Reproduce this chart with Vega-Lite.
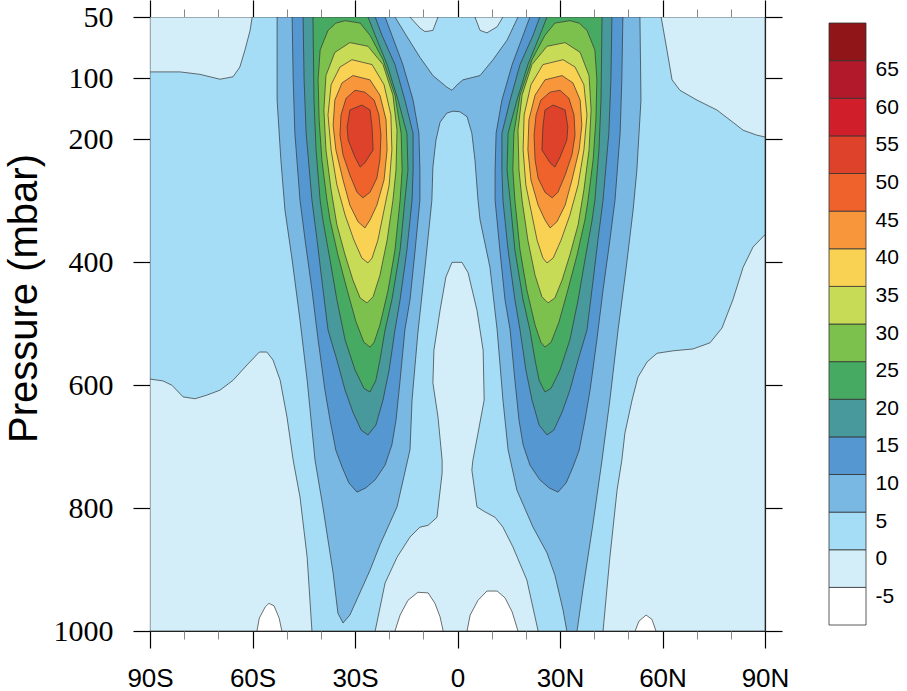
{
"$schema":"https://vega.github.io/schema/vega-lite/v6.json",
"autosize":{"type":"none"},
"padding":{"left":150,"top":17,"right":142,"bottom":60},
"width":615,"height":614,
"background":"white",
"config":{"view":{"stroke":null}},
"data":{"values":[
{"g":"a0","u":0,"i":0,"lat":-90,"p":50},{"g":"a0","u":0,"i":1,"lat":90,"p":50},{"g":"a0","u":0,"i":2,"lat":90,"p":1000},{"g":"a0","u":0,"i":3,"lat":-90,"p":1000},
{"g":"b1","u":-5,"i":0,"lat":-90,"p":50},{"g":"b1","u":-5,"i":1,"lat":-60.1,"p":50},{"g":"b1","u":-5,"i":2,"lat":-60.7,"p":61},{"g":"b1","u":-5,"i":3,"lat":-62.2,"p":77},{"g":"b1","u":-5,"i":4,"lat":-63.7,"p":91},{"g":"b1","u":-5,"i":5,"lat":-65.7,"p":99},{"g":"b1","u":-5,"i":6,"lat":-69.5,"p":102},{"g":"b1","u":-5,"i":7,"lat":-75.4,"p":97},{"g":"b1","u":-5,"i":8,"lat":-81.2,"p":95},{"g":"b1","u":-5,"i":9,"lat":-90,"p":95},
{"g":"b2","u":-5,"i":0,"lat":59.6,"p":50},{"g":"b2","u":-5,"i":1,"lat":90,"p":50},{"g":"b2","u":-5,"i":2,"lat":90,"p":196},{"g":"b2","u":-5,"i":3,"lat":87.6,"p":193},{"g":"b2","u":-5,"i":4,"lat":83.6,"p":185},{"g":"b2","u":-5,"i":5,"lat":80.6,"p":172},{"g":"b2","u":-5,"i":6,"lat":75.9,"p":152},{"g":"b2","u":-5,"i":7,"lat":70.1,"p":136},{"g":"b2","u":-5,"i":8,"lat":65.1,"p":120},{"g":"b2","u":-5,"i":9,"lat":62.8,"p":103},{"g":"b2","u":-5,"i":10,"lat":61.3,"p":77},
{"g":"b3","u":-5,"i":0,"lat":-13.9,"p":50},{"g":"b3","u":-5,"i":1,"lat":-5.7,"p":50},{"g":"b3","u":-5,"i":2,"lat":-7.2,"p":61},{"g":"b3","u":-5,"i":3,"lat":-9.5,"p":62},{"g":"b3","u":-5,"i":4,"lat":-11,"p":59},
{"g":"b4","u":-5,"i":0,"lat":5.1,"p":50},{"g":"b4","u":-5,"i":1,"lat":13.3,"p":50},{"g":"b4","u":-5,"i":2,"lat":11.6,"p":58},{"g":"b4","u":-5,"i":3,"lat":8.6,"p":63},{"g":"b4","u":-5,"i":4,"lat":6.6,"p":61},
{"g":"b5","u":-5,"i":0,"lat":-1.6,"p":400},{"g":"b5","u":-5,"i":1,"lat":1.3,"p":400},{"g":"b5","u":-5,"i":2,"lat":3.1,"p":417},{"g":"b5","u":-5,"i":3,"lat":5.7,"p":478},{"g":"b5","u":-5,"i":4,"lat":7.5,"p":543},{"g":"b5","u":-5,"i":5,"lat":7.8,"p":624},{"g":"b5","u":-5,"i":6,"lat":6.0,"p":678},{"g":"b5","u":-5,"i":7,"lat":4.5,"p":722},{"g":"b5","u":-5,"i":8,"lat":4.2,"p":738},{"g":"b5","u":-5,"i":9,"lat":5.7,"p":798},{"g":"b5","u":-5,"i":10,"lat":8.0,"p":806},{"g":"b5","u":-5,"i":11,"lat":11.0,"p":815},{"g":"b5","u":-5,"i":12,"lat":13.3,"p":831},{"g":"b5","u":-5,"i":13,"lat":16.2,"p":863},{"g":"b5","u":-5,"i":14,"lat":20.3,"p":917},{"g":"b5","u":-5,"i":15,"lat":23.6,"p":1000},{"g":"b5","u":-5,"i":16,"lat":-24.1,"p":1000},{"g":"b5","u":-5,"i":17,"lat":-21.2,"p":922},{"g":"b5","u":-5,"i":18,"lat":-17.7,"p":880},{"g":"b5","u":-5,"i":19,"lat":-13.9,"p":847},{"g":"b5","u":-5,"i":20,"lat":-11,"p":831},{"g":"b5","u":-5,"i":21,"lat":-8.6,"p":828},{"g":"b5","u":-5,"i":22,"lat":-6.0,"p":815},{"g":"b5","u":-5,"i":23,"lat":-4.5,"p":743},{"g":"b5","u":-5,"i":24,"lat":-4.5,"p":722},{"g":"b5","u":-5,"i":25,"lat":-5.7,"p":652},{"g":"b5","u":-5,"i":26,"lat":-7.2,"p":596},{"g":"b5","u":-5,"i":27,"lat":-6.9,"p":543},{"g":"b5","u":-5,"i":28,"lat":-5.1,"p":478},{"g":"b5","u":-5,"i":29,"lat":-3.4,"p":424},
{"g":"b6","u":-5,"i":0,"lat":-90,"p":590},{"g":"b6","u":-5,"i":1,"lat":-86.2,"p":593},{"g":"b6","u":-5,"i":2,"lat":-83.6,"p":600},{"g":"b6","u":-5,"i":3,"lat":-80.3,"p":619},{"g":"b6","u":-5,"i":4,"lat":-76.8,"p":622},{"g":"b6","u":-5,"i":5,"lat":-73.3,"p":616},{"g":"b6","u":-5,"i":6,"lat":-69.5,"p":608},{"g":"b6","u":-5,"i":7,"lat":-65.7,"p":592},{"g":"b6","u":-5,"i":8,"lat":-61.6,"p":567},{"g":"b6","u":-5,"i":9,"lat":-58.0,"p":546},{"g":"b6","u":-5,"i":10,"lat":-55.8,"p":546},{"g":"b6","u":-5,"i":11,"lat":-54.0,"p":559},{"g":"b6","u":-5,"i":12,"lat":-51.9,"p":592},{"g":"b6","u":-5,"i":13,"lat":-49.9,"p":652},{"g":"b6","u":-5,"i":14,"lat":-48.1,"p":722},{"g":"b6","u":-5,"i":15,"lat":-46.1,"p":782},{"g":"b6","u":-5,"i":16,"lat":-44.0,"p":880},{"g":"b6","u":-5,"i":17,"lat":-42.6,"p":1000},{"g":"b6","u":-5,"i":18,"lat":-90,"p":1000},
{"g":"b7","u":-5,"i":0,"lat":90,"p":355},{"g":"b7","u":-5,"i":1,"lat":86.5,"p":375},{"g":"b7","u":-5,"i":2,"lat":83.6,"p":408},{"g":"b7","u":-5,"i":3,"lat":80.6,"p":461},{"g":"b7","u":-5,"i":4,"lat":77.4,"p":507},{"g":"b7","u":-5,"i":5,"lat":73.9,"p":531},{"g":"b7","u":-5,"i":6,"lat":68.9,"p":541},{"g":"b7","u":-5,"i":7,"lat":63.1,"p":544},{"g":"b7","u":-5,"i":8,"lat":58.4,"p":548},{"g":"b7","u":-5,"i":9,"lat":55.5,"p":562},{"g":"b7","u":-5,"i":10,"lat":52.8,"p":587},{"g":"b7","u":-5,"i":11,"lat":51.1,"p":624},{"g":"b7","u":-5,"i":12,"lat":49.0,"p":678},{"g":"b7","u":-5,"i":13,"lat":48.1,"p":722},{"g":"b7","u":-5,"i":14,"lat":46.7,"p":771},{"g":"b7","u":-5,"i":15,"lat":44.6,"p":880},{"g":"b7","u":-5,"i":16,"lat":42.6,"p":1000},{"g":"b7","u":-5,"i":17,"lat":90,"p":1000},
{"g":"c1","u":-10,"i":0,"lat":-58.7,"p":1000},{"g":"c1","u":-10,"i":1,"lat":-58,"p":979},{"g":"c1","u":-10,"i":2,"lat":-56.3,"p":961},{"g":"c1","u":-10,"i":3,"lat":-55.2,"p":955},{"g":"c1","u":-10,"i":4,"lat":-53.7,"p":959},{"g":"c1","u":-10,"i":5,"lat":-52.2,"p":979},{"g":"c1","u":-10,"i":6,"lat":-51.4,"p":1000},
{"g":"c2","u":-10,"i":0,"lat":-18.3,"p":1000},{"g":"c2","u":-10,"i":1,"lat":-16.8,"p":974},{"g":"c2","u":-10,"i":2,"lat":-14.5,"p":950},{"g":"c2","u":-10,"i":3,"lat":-11.6,"p":937},{"g":"c2","u":-10,"i":4,"lat":-8.6,"p":938},{"g":"c2","u":-10,"i":5,"lat":-6.6,"p":955},{"g":"c2","u":-10,"i":6,"lat":-5.1,"p":977},{"g":"c2","u":-10,"i":7,"lat":-4.2,"p":1000},
{"g":"c3","u":-10,"i":0,"lat":2.8,"p":1000},{"g":"c3","u":-10,"i":1,"lat":3.7,"p":974},{"g":"c3","u":-10,"i":2,"lat":6.0,"p":950},{"g":"c3","u":-10,"i":3,"lat":8.6,"p":935},{"g":"c3","u":-10,"i":4,"lat":11.6,"p":935},{"g":"c3","u":-10,"i":5,"lat":13.9,"p":946},{"g":"c3","u":-10,"i":6,"lat":16.0,"p":969},{"g":"c3","u":-10,"i":7,"lat":17.7,"p":1000},
{"g":"c4","u":-10,"i":0,"lat":52,"p":1000},{"g":"c4","u":-10,"i":1,"lat":53.1,"p":984},{"g":"c4","u":-10,"i":2,"lat":55.2,"p":974},{"g":"c4","u":-10,"i":3,"lat":56.9,"p":981},{"g":"c4","u":-10,"i":4,"lat":58.1,"p":1000},
{"g":"d05","u":5,"i":0,"lat":-52.8,"p":50},{"g":"d05","u":5,"i":1,"lat":-18.3,"p":50},{"g":"d05","u":5,"i":2,"lat":-14.8,"p":66},{"g":"d05","u":5,"i":3,"lat":-11,"p":83},{"g":"d05","u":5,"i":4,"lat":-7.2,"p":98},{"g":"d05","u":5,"i":5,"lat":-3.1,"p":115},{"g":"d05","u":5,"i":6,"lat":-1.6,"p":120},{"g":"d05","u":5,"i":7,"lat":-0.1,"p":111},{"g":"d05","u":5,"i":8,"lat":1.6,"p":103},{"g":"d05","u":5,"i":9,"lat":6.6,"p":98},{"g":"d05","u":5,"i":10,"lat":10.4,"p":85},{"g":"d05","u":5,"i":11,"lat":14.5,"p":69},{"g":"d05","u":5,"i":12,"lat":17.7,"p":50},{"g":"d05","u":5,"i":13,"lat":53.4,"p":50},{"g":"d05","u":5,"i":14,"lat":53.7,"p":136},{"g":"d05","u":5,"i":15,"lat":52.5,"p":250},{"g":"d05","u":5,"i":16,"lat":51.4,"p":315},{"g":"d05","u":5,"i":17,"lat":49.3,"p":412},{"g":"d05","u":5,"i":18,"lat":47,"p":510},{"g":"d05","u":5,"i":19,"lat":44.6,"p":624},{"g":"d05","u":5,"i":20,"lat":42.3,"p":722},{"g":"d05","u":5,"i":21,"lat":39.7,"p":824},{"g":"d05","u":5,"i":22,"lat":36.7,"p":933},{"g":"d05","u":5,"i":23,"lat":35,"p":1000},{"g":"d05","u":5,"i":24,"lat":32,"p":1000},{"g":"d05","u":5,"i":25,"lat":30.9,"p":966},{"g":"d05","u":5,"i":26,"lat":28.5,"p":909},{"g":"d05","u":5,"i":27,"lat":26.2,"p":873},{"g":"d05","u":5,"i":28,"lat":22.1,"p":831},{"g":"d05","u":5,"i":29,"lat":17.4,"p":771},{"g":"d05","u":5,"i":30,"lat":14.8,"p":705},{"g":"d05","u":5,"i":31,"lat":13.3,"p":624},{"g":"d05","u":5,"i":32,"lat":11.6,"p":510},{"g":"d05","u":5,"i":33,"lat":9.5,"p":408},{"g":"d05","u":5,"i":34,"lat":6.6,"p":331},{"g":"d05","u":5,"i":35,"lat":6,"p":299},{"g":"d05","u":5,"i":36,"lat":5.1,"p":233},{"g":"d05","u":5,"i":37,"lat":4.2,"p":190},{"g":"d05","u":5,"i":38,"lat":2.8,"p":163},{"g":"d05","u":5,"i":39,"lat":0.7,"p":155},{"g":"d05","u":5,"i":40,"lat":-1.3,"p":154},{"g":"d05","u":5,"i":41,"lat":-3.1,"p":157},{"g":"d05","u":5,"i":42,"lat":-5.1,"p":172},{"g":"d05","u":5,"i":43,"lat":-6.3,"p":201},{"g":"d05","u":5,"i":44,"lat":-7.2,"p":245},{"g":"d05","u":5,"i":45,"lat":-7.5,"p":299},{"g":"d05","u":5,"i":46,"lat":-9.5,"p":408},{"g":"d05","u":5,"i":47,"lat":-11.6,"p":515},{"g":"d05","u":5,"i":48,"lat":-13.3,"p":624},{"g":"d05","u":5,"i":49,"lat":-13.9,"p":705},{"g":"d05","u":5,"i":50,"lat":-17.7,"p":798},{"g":"d05","u":5,"i":51,"lat":-22.7,"p":860},{"g":"d05","u":5,"i":52,"lat":-25.6,"p":901},{"g":"d05","u":5,"i":53,"lat":-28.5,"p":937},{"g":"d05","u":5,"i":54,"lat":-31.5,"p":974},{"g":"d05","u":5,"i":55,"lat":-33.5,"p":987},{"g":"d05","u":5,"i":56,"lat":-35,"p":971},{"g":"d05","u":5,"i":57,"lat":-36.4,"p":906},{"g":"d05","u":5,"i":58,"lat":-39.4,"p":798},{"g":"d05","u":5,"i":59,"lat":-41.7,"p":722},{"g":"d05","u":5,"i":60,"lat":-44,"p":592},{"g":"d05","u":5,"i":61,"lat":-46.1,"p":494},{"g":"d05","u":5,"i":62,"lat":-48.4,"p":396},{"g":"d05","u":5,"i":63,"lat":-50.5,"p":315},{"g":"d05","u":5,"i":64,"lat":-51.7,"p":233},{"g":"d05","u":5,"i":65,"lat":-52.8,"p":136},
{"g":"e10L","u":10,"i":0,"lat":-48.4,"p":50},{"g":"e10L","u":10,"i":1,"lat":-21.2,"p":50},{"g":"e10L","u":10,"i":2,"lat":-19.2,"p":65},{"g":"e10L","u":10,"i":3,"lat":-16.0,"p":89},{"g":"e10L","u":10,"i":4,"lat":-13.0,"p":136},{"g":"e10L","u":10,"i":5,"lat":-11.3,"p":190},{"g":"e10L","u":10,"i":6,"lat":-11.0,"p":250},{"g":"e10L","u":10,"i":7,"lat":-11.0,"p":299},{"g":"e10L","u":10,"i":8,"lat":-12.4,"p":380},{"g":"e10L","u":10,"i":9,"lat":-13.9,"p":461},{"g":"e10L","u":10,"i":10,"lat":-15.4,"p":510},{"g":"e10L","u":10,"i":11,"lat":-16.8,"p":592},{"g":"e10L","u":10,"i":12,"lat":-18.0,"p":657},{"g":"e10L","u":10,"i":13,"lat":-19.2,"p":697},{"g":"e10L","u":10,"i":14,"lat":-21.2,"p":730},{"g":"e10L","u":10,"i":15,"lat":-24.1,"p":754},{"g":"e10L","u":10,"i":16,"lat":-26.8,"p":767},{"g":"e10L","u":10,"i":17,"lat":-29.4,"p":774},{"g":"e10L","u":10,"i":18,"lat":-31.8,"p":759},{"g":"e10L","u":10,"i":19,"lat":-33.8,"p":733},{"g":"e10L","u":10,"i":20,"lat":-35.6,"p":706},{"g":"e10L","u":10,"i":21,"lat":-37.3,"p":657},{"g":"e10L","u":10,"i":22,"lat":-38.8,"p":608},{"g":"e10L","u":10,"i":23,"lat":-40.8,"p":526},{"g":"e10L","u":10,"i":24,"lat":-42.6,"p":445},{"g":"e10L","u":10,"i":25,"lat":-44.6,"p":364},{"g":"e10L","u":10,"i":26,"lat":-46.1,"p":299},{"g":"e10L","u":10,"i":27,"lat":-47.6,"p":190},{"g":"e10L","u":10,"i":28,"lat":-48.1,"p":103},
{"g":"e10R","u":10,"i":0,"lat":48.4,"p":50},{"g":"e10R","u":10,"i":1,"lat":21.2,"p":50},{"g":"e10R","u":10,"i":2,"lat":19.2,"p":65},{"g":"e10R","u":10,"i":3,"lat":16.0,"p":89},{"g":"e10R","u":10,"i":4,"lat":13.0,"p":136},{"g":"e10R","u":10,"i":5,"lat":11.3,"p":190},{"g":"e10R","u":10,"i":6,"lat":11.0,"p":250},{"g":"e10R","u":10,"i":7,"lat":11.0,"p":299},{"g":"e10R","u":10,"i":8,"lat":12.4,"p":380},{"g":"e10R","u":10,"i":9,"lat":13.9,"p":461},{"g":"e10R","u":10,"i":10,"lat":15.4,"p":510},{"g":"e10R","u":10,"i":11,"lat":16.8,"p":592},{"g":"e10R","u":10,"i":12,"lat":18.0,"p":657},{"g":"e10R","u":10,"i":13,"lat":19.2,"p":697},{"g":"e10R","u":10,"i":14,"lat":21.2,"p":730},{"g":"e10R","u":10,"i":15,"lat":24.1,"p":754},{"g":"e10R","u":10,"i":16,"lat":26.8,"p":767},{"g":"e10R","u":10,"i":17,"lat":29.4,"p":774},{"g":"e10R","u":10,"i":18,"lat":31.8,"p":759},{"g":"e10R","u":10,"i":19,"lat":33.8,"p":733},{"g":"e10R","u":10,"i":20,"lat":35.6,"p":706},{"g":"e10R","u":10,"i":21,"lat":37.3,"p":657},{"g":"e10R","u":10,"i":22,"lat":38.8,"p":608},{"g":"e10R","u":10,"i":23,"lat":40.8,"p":526},{"g":"e10R","u":10,"i":24,"lat":42.6,"p":445},{"g":"e10R","u":10,"i":25,"lat":44.6,"p":364},{"g":"e10R","u":10,"i":26,"lat":46.1,"p":299},{"g":"e10R","u":10,"i":27,"lat":47.6,"p":190},{"g":"e10R","u":10,"i":28,"lat":48.1,"p":103},
{"g":"f15L","u":15,"i":0,"lat":-45.2,"p":50},{"g":"f15L","u":15,"i":1,"lat":-24.1,"p":50},{"g":"f15L","u":15,"i":2,"lat":-22.1,"p":65},{"g":"f15L","u":15,"i":3,"lat":-18.3,"p":89},{"g":"f15L","u":15,"i":4,"lat":-15.4,"p":136},{"g":"f15L","u":15,"i":5,"lat":-13.0,"p":190},{"g":"f15L","u":15,"i":6,"lat":-13.0,"p":250},{"g":"f15L","u":15,"i":7,"lat":-13.3,"p":299},{"g":"f15L","u":15,"i":8,"lat":-14.8,"p":380},{"g":"f15L","u":15,"i":9,"lat":-16.8,"p":461},{"g":"f15L","u":15,"i":10,"lat":-18.3,"p":510},{"g":"f15L","u":15,"i":11,"lat":-20.0,"p":575},{"g":"f15L","u":15,"i":12,"lat":-21.8,"p":624},{"g":"f15L","u":15,"i":13,"lat":-23.9,"p":665},{"g":"f15L","u":15,"i":14,"lat":-26.2,"p":681},{"g":"f15L","u":15,"i":15,"lat":-28.2,"p":673},{"g":"f15L","u":15,"i":16,"lat":-30.6,"p":644},{"g":"f15L","u":15,"i":17,"lat":-32.9,"p":608},{"g":"f15L","u":15,"i":18,"lat":-35.3,"p":559},{"g":"f15L","u":15,"i":19,"lat":-37.9,"p":510},{"g":"f15L","u":15,"i":20,"lat":-39.7,"p":429},{"g":"f15L","u":15,"i":21,"lat":-41.1,"p":364},{"g":"f15L","u":15,"i":22,"lat":-42.6,"p":299},{"g":"f15L","u":15,"i":23,"lat":-44.3,"p":190},{"g":"f15L","u":15,"i":24,"lat":-44.9,"p":103},
{"g":"f15R","u":15,"i":0,"lat":45.2,"p":50},{"g":"f15R","u":15,"i":1,"lat":24.1,"p":50},{"g":"f15R","u":15,"i":2,"lat":22.1,"p":65},{"g":"f15R","u":15,"i":3,"lat":18.3,"p":89},{"g":"f15R","u":15,"i":4,"lat":15.4,"p":136},{"g":"f15R","u":15,"i":5,"lat":13.0,"p":190},{"g":"f15R","u":15,"i":6,"lat":13.0,"p":250},{"g":"f15R","u":15,"i":7,"lat":13.3,"p":299},{"g":"f15R","u":15,"i":8,"lat":14.8,"p":380},{"g":"f15R","u":15,"i":9,"lat":16.8,"p":461},{"g":"f15R","u":15,"i":10,"lat":18.3,"p":510},{"g":"f15R","u":15,"i":11,"lat":20.0,"p":575},{"g":"f15R","u":15,"i":12,"lat":21.8,"p":624},{"g":"f15R","u":15,"i":13,"lat":23.9,"p":665},{"g":"f15R","u":15,"i":14,"lat":26.2,"p":681},{"g":"f15R","u":15,"i":15,"lat":28.2,"p":673},{"g":"f15R","u":15,"i":16,"lat":30.6,"p":644},{"g":"f15R","u":15,"i":17,"lat":32.9,"p":608},{"g":"f15R","u":15,"i":18,"lat":35.3,"p":559},{"g":"f15R","u":15,"i":19,"lat":37.9,"p":510},{"g":"f15R","u":15,"i":20,"lat":39.7,"p":429},{"g":"f15R","u":15,"i":21,"lat":41.1,"p":364},{"g":"f15R","u":15,"i":22,"lat":42.6,"p":299},{"g":"f15R","u":15,"i":23,"lat":44.3,"p":190},{"g":"f15R","u":15,"i":24,"lat":44.9,"p":103},
{"g":"g20L","u":20,"i":0,"lat":-42.3,"p":50},{"g":"g20L","u":20,"i":1,"lat":-26.2,"p":50},{"g":"g20L","u":20,"i":2,"lat":-24.1,"p":65},{"g":"g20L","u":20,"i":3,"lat":-20.6,"p":89},{"g":"g20L","u":20,"i":4,"lat":-17.4,"p":136},{"g":"g20L","u":20,"i":5,"lat":-14.8,"p":190},{"g":"g20L","u":20,"i":6,"lat":-14.5,"p":250},{"g":"g20L","u":20,"i":7,"lat":-15.4,"p":299},{"g":"g20L","u":20,"i":8,"lat":-16.8,"p":380},{"g":"g20L","u":20,"i":9,"lat":-19.2,"p":461},{"g":"g20L","u":20,"i":10,"lat":-21.2,"p":510},{"g":"g20L","u":20,"i":11,"lat":-22.7,"p":559},{"g":"g20L","u":20,"i":12,"lat":-23.9,"p":592},{"g":"g20L","u":20,"i":13,"lat":-25.6,"p":611},{"g":"g20L","u":20,"i":14,"lat":-27.4,"p":605},{"g":"g20L","u":20,"i":15,"lat":-30.0,"p":575},{"g":"g20L","u":20,"i":16,"lat":-32.9,"p":526},{"g":"g20L","u":20,"i":17,"lat":-35.3,"p":461},{"g":"g20L","u":20,"i":18,"lat":-37.3,"p":396},{"g":"g20L","u":20,"i":19,"lat":-39.4,"p":331},{"g":"g20L","u":20,"i":20,"lat":-40.2,"p":299},{"g":"g20L","u":20,"i":21,"lat":-41.4,"p":217},{"g":"g20L","u":20,"i":22,"lat":-42.0,"p":136},
{"g":"g20R","u":20,"i":0,"lat":42.3,"p":50},{"g":"g20R","u":20,"i":1,"lat":26.2,"p":50},{"g":"g20R","u":20,"i":2,"lat":24.1,"p":65},{"g":"g20R","u":20,"i":3,"lat":20.6,"p":89},{"g":"g20R","u":20,"i":4,"lat":17.4,"p":136},{"g":"g20R","u":20,"i":5,"lat":14.8,"p":190},{"g":"g20R","u":20,"i":6,"lat":14.5,"p":250},{"g":"g20R","u":20,"i":7,"lat":15.4,"p":299},{"g":"g20R","u":20,"i":8,"lat":16.8,"p":380},{"g":"g20R","u":20,"i":9,"lat":19.2,"p":461},{"g":"g20R","u":20,"i":10,"lat":21.2,"p":510},{"g":"g20R","u":20,"i":11,"lat":22.7,"p":559},{"g":"g20R","u":20,"i":12,"lat":23.9,"p":592},{"g":"g20R","u":20,"i":13,"lat":25.6,"p":611},{"g":"g20R","u":20,"i":14,"lat":27.4,"p":605},{"g":"g20R","u":20,"i":15,"lat":30.0,"p":575},{"g":"g20R","u":20,"i":16,"lat":32.9,"p":526},{"g":"g20R","u":20,"i":17,"lat":35.3,"p":461},{"g":"g20R","u":20,"i":18,"lat":37.3,"p":396},{"g":"g20R","u":20,"i":19,"lat":39.4,"p":331},{"g":"g20R","u":20,"i":20,"lat":40.2,"p":299},{"g":"g20R","u":20,"i":21,"lat":41.4,"p":217},{"g":"g20R","u":20,"i":22,"lat":42.0,"p":136},
{"g":"h25L","u":25,"i":0,"lat":-32.9,"p":53},{"g":"h25L","u":25,"i":1,"lat":-28.5,"p":55},{"g":"h25L","u":25,"i":2,"lat":-25.6,"p":65},{"g":"h25L","u":25,"i":3,"lat":-21.8,"p":85},{"g":"h25L","u":25,"i":4,"lat":-18.3,"p":128},{"g":"h25L","u":25,"i":5,"lat":-16.5,"p":190},{"g":"h25L","u":25,"i":6,"lat":-16.2,"p":250},{"g":"h25L","u":25,"i":7,"lat":-16.8,"p":299},{"g":"h25L","u":25,"i":8,"lat":-18.3,"p":380},{"g":"h25L","u":25,"i":9,"lat":-20.3,"p":445},{"g":"h25L","u":25,"i":10,"lat":-22.7,"p":502},{"g":"h25L","u":25,"i":11,"lat":-24.4,"p":530},{"g":"h25L","u":25,"i":12,"lat":-25.6,"p":538},{"g":"h25L","u":25,"i":13,"lat":-27.4,"p":530},{"g":"h25L","u":25,"i":14,"lat":-29.7,"p":497},{"g":"h25L","u":25,"i":15,"lat":-32.3,"p":445},{"g":"h25L","u":25,"i":16,"lat":-35.0,"p":388},{"g":"h25L","u":25,"i":17,"lat":-37.3,"p":331},{"g":"h25L","u":25,"i":18,"lat":-38.2,"p":299},{"g":"h25L","u":25,"i":19,"lat":-39.7,"p":233},{"g":"h25L","u":25,"i":20,"lat":-40.5,"p":168},{"g":"h25L","u":25,"i":21,"lat":-40.8,"p":103},{"g":"h25L","u":25,"i":22,"lat":-40.2,"p":77},{"g":"h25L","u":25,"i":23,"lat":-37.9,"p":61},{"g":"h25L","u":25,"i":24,"lat":-35.6,"p":55},
{"g":"h25R","u":25,"i":0,"lat":32.9,"p":53},{"g":"h25R","u":25,"i":1,"lat":28.5,"p":55},{"g":"h25R","u":25,"i":2,"lat":25.6,"p":65},{"g":"h25R","u":25,"i":3,"lat":21.8,"p":85},{"g":"h25R","u":25,"i":4,"lat":18.3,"p":128},{"g":"h25R","u":25,"i":5,"lat":16.5,"p":190},{"g":"h25R","u":25,"i":6,"lat":16.2,"p":250},{"g":"h25R","u":25,"i":7,"lat":16.8,"p":299},{"g":"h25R","u":25,"i":8,"lat":18.3,"p":380},{"g":"h25R","u":25,"i":9,"lat":20.3,"p":445},{"g":"h25R","u":25,"i":10,"lat":22.7,"p":502},{"g":"h25R","u":25,"i":11,"lat":24.4,"p":530},{"g":"h25R","u":25,"i":12,"lat":25.6,"p":538},{"g":"h25R","u":25,"i":13,"lat":27.4,"p":530},{"g":"h25R","u":25,"i":14,"lat":29.7,"p":497},{"g":"h25R","u":25,"i":15,"lat":32.3,"p":445},{"g":"h25R","u":25,"i":16,"lat":35.0,"p":388},{"g":"h25R","u":25,"i":17,"lat":37.3,"p":331},{"g":"h25R","u":25,"i":18,"lat":38.2,"p":299},{"g":"h25R","u":25,"i":19,"lat":39.7,"p":233},{"g":"h25R","u":25,"i":20,"lat":40.5,"p":168},{"g":"h25R","u":25,"i":21,"lat":40.8,"p":103},{"g":"h25R","u":25,"i":22,"lat":40.2,"p":77},{"g":"h25R","u":25,"i":23,"lat":37.9,"p":61},{"g":"h25R","u":25,"i":24,"lat":35.6,"p":55},
{"g":"i30L","u":30,"i":0,"lat":-31.5,"p":71},{"g":"i30L","u":30,"i":1,"lat":-26.2,"p":74},{"g":"i30L","u":30,"i":2,"lat":-21.8,"p":89},{"g":"i30L","u":30,"i":3,"lat":-18.9,"p":128},{"g":"i30L","u":30,"i":4,"lat":-17.7,"p":185},{"g":"i30L","u":30,"i":5,"lat":-18.0,"p":250},{"g":"i30L","u":30,"i":6,"lat":-18.9,"p":299},{"g":"i30L","u":30,"i":7,"lat":-20.6,"p":364},{"g":"i30L","u":30,"i":8,"lat":-22.7,"p":421},{"g":"i30L","u":30,"i":9,"lat":-24.7,"p":456},{"g":"i30L","u":30,"i":10,"lat":-26.5,"p":466},{"g":"i30L","u":30,"i":11,"lat":-28.5,"p":458},{"g":"i30L","u":30,"i":12,"lat":-30.6,"p":429},{"g":"i30L","u":30,"i":13,"lat":-32.9,"p":388},{"g":"i30L","u":30,"i":14,"lat":-35.3,"p":339},{"g":"i30L","u":30,"i":15,"lat":-37.0,"p":282},{"g":"i30L","u":30,"i":16,"lat":-38.5,"p":217},{"g":"i30L","u":30,"i":17,"lat":-39.1,"p":152},{"g":"i30L","u":30,"i":18,"lat":-38.5,"p":98},{"g":"i30L","u":30,"i":19,"lat":-35.9,"p":79},
{"g":"i30R","u":30,"i":0,"lat":31.5,"p":71},{"g":"i30R","u":30,"i":1,"lat":26.2,"p":74},{"g":"i30R","u":30,"i":2,"lat":21.8,"p":89},{"g":"i30R","u":30,"i":3,"lat":18.9,"p":128},{"g":"i30R","u":30,"i":4,"lat":17.7,"p":185},{"g":"i30R","u":30,"i":5,"lat":18.0,"p":250},{"g":"i30R","u":30,"i":6,"lat":18.9,"p":299},{"g":"i30R","u":30,"i":7,"lat":20.6,"p":364},{"g":"i30R","u":30,"i":8,"lat":22.7,"p":421},{"g":"i30R","u":30,"i":9,"lat":24.7,"p":456},{"g":"i30R","u":30,"i":10,"lat":26.5,"p":466},{"g":"i30R","u":30,"i":11,"lat":28.5,"p":458},{"g":"i30R","u":30,"i":12,"lat":30.6,"p":429},{"g":"i30R","u":30,"i":13,"lat":32.9,"p":388},{"g":"i30R","u":30,"i":14,"lat":35.3,"p":339},{"g":"i30R","u":30,"i":15,"lat":37.0,"p":282},{"g":"i30R","u":30,"i":16,"lat":38.5,"p":217},{"g":"i30R","u":30,"i":17,"lat":39.1,"p":152},{"g":"i30R","u":30,"i":18,"lat":38.5,"p":98},{"g":"i30R","u":30,"i":19,"lat":35.9,"p":79},
{"g":"j35L","u":35,"i":0,"lat":-30.9,"p":85},{"g":"j35L","u":35,"i":1,"lat":-25.0,"p":89},{"g":"j35L","u":35,"i":2,"lat":-21.5,"p":111},{"g":"j35L","u":35,"i":3,"lat":-19.5,"p":160},{"g":"j35L","u":35,"i":4,"lat":-19.2,"p":217},{"g":"j35L","u":35,"i":5,"lat":-20.0,"p":274},{"g":"j35L","u":35,"i":6,"lat":-21.5,"p":315},{"g":"j35L","u":35,"i":7,"lat":-23.3,"p":364},{"g":"j35L","u":35,"i":8,"lat":-25.0,"p":393},{"g":"j35L","u":35,"i":9,"lat":-26.2,"p":401},{"g":"j35L","u":35,"i":10,"lat":-28.0,"p":393},{"g":"j35L","u":35,"i":11,"lat":-30.3,"p":364},{"g":"j35L","u":35,"i":12,"lat":-32.9,"p":323},{"g":"j35L","u":35,"i":13,"lat":-35.3,"p":274},{"g":"j35L","u":35,"i":14,"lat":-37.0,"p":217},{"g":"j35L","u":35,"i":15,"lat":-37.9,"p":160},{"g":"j35L","u":35,"i":16,"lat":-37.0,"p":111},{"g":"j35L","u":35,"i":17,"lat":-34.4,"p":91},
{"g":"j35R","u":35,"i":0,"lat":30.9,"p":85},{"g":"j35R","u":35,"i":1,"lat":25.0,"p":89},{"g":"j35R","u":35,"i":2,"lat":21.5,"p":111},{"g":"j35R","u":35,"i":3,"lat":19.5,"p":160},{"g":"j35R","u":35,"i":4,"lat":19.2,"p":217},{"g":"j35R","u":35,"i":5,"lat":20.0,"p":274},{"g":"j35R","u":35,"i":6,"lat":21.5,"p":315},{"g":"j35R","u":35,"i":7,"lat":23.3,"p":364},{"g":"j35R","u":35,"i":8,"lat":25.0,"p":393},{"g":"j35R","u":35,"i":9,"lat":26.2,"p":401},{"g":"j35R","u":35,"i":10,"lat":28.0,"p":393},{"g":"j35R","u":35,"i":11,"lat":30.3,"p":364},{"g":"j35R","u":35,"i":12,"lat":32.9,"p":323},{"g":"j35R","u":35,"i":13,"lat":35.3,"p":274},{"g":"j35R","u":35,"i":14,"lat":37.0,"p":217},{"g":"j35R","u":35,"i":15,"lat":37.9,"p":160},{"g":"j35R","u":35,"i":16,"lat":37.0,"p":111},{"g":"j35R","u":35,"i":17,"lat":34.4,"p":91},
{"g":"k40L","u":40,"i":0,"lat":-30.6,"p":98},{"g":"k40L","u":40,"i":1,"lat":-25.6,"p":103},{"g":"k40L","u":40,"i":2,"lat":-22.7,"p":128},{"g":"k40L","u":40,"i":3,"lat":-20.9,"p":168},{"g":"k40L","u":40,"i":4,"lat":-20.6,"p":217},{"g":"k40L","u":40,"i":5,"lat":-21.5,"p":266},{"g":"k40L","u":40,"i":6,"lat":-23.6,"p":307},{"g":"k40L","u":40,"i":7,"lat":-25.6,"p":331},{"g":"k40L","u":40,"i":8,"lat":-27.1,"p":344},{"g":"k40L","u":40,"i":9,"lat":-29.1,"p":334},{"g":"k40L","u":40,"i":10,"lat":-31.5,"p":307},{"g":"k40L","u":40,"i":11,"lat":-33.5,"p":266},{"g":"k40L","u":40,"i":12,"lat":-35.6,"p":217},{"g":"k40L","u":40,"i":13,"lat":-36.4,"p":177},{"g":"k40L","u":40,"i":14,"lat":-35.9,"p":136},{"g":"k40L","u":40,"i":15,"lat":-33.8,"p":108},
{"g":"k40R","u":40,"i":0,"lat":30.6,"p":98},{"g":"k40R","u":40,"i":1,"lat":25.6,"p":103},{"g":"k40R","u":40,"i":2,"lat":22.7,"p":128},{"g":"k40R","u":40,"i":3,"lat":20.9,"p":168},{"g":"k40R","u":40,"i":4,"lat":20.6,"p":217},{"g":"k40R","u":40,"i":5,"lat":21.5,"p":266},{"g":"k40R","u":40,"i":6,"lat":23.6,"p":307},{"g":"k40R","u":40,"i":7,"lat":25.6,"p":331},{"g":"k40R","u":40,"i":8,"lat":27.1,"p":344},{"g":"k40R","u":40,"i":9,"lat":29.1,"p":334},{"g":"k40R","u":40,"i":10,"lat":31.5,"p":307},{"g":"k40R","u":40,"i":11,"lat":33.5,"p":266},{"g":"k40R","u":40,"i":12,"lat":35.6,"p":217},{"g":"k40R","u":40,"i":13,"lat":36.4,"p":177},{"g":"k40R","u":40,"i":14,"lat":35.9,"p":136},{"g":"k40R","u":40,"i":15,"lat":33.8,"p":108},
{"g":"l45L","u":45,"i":0,"lat":-30.0,"p":120},{"g":"l45L","u":45,"i":1,"lat":-27.1,"p":123},{"g":"l45L","u":45,"i":2,"lat":-24.4,"p":136},{"g":"l45L","u":45,"i":3,"lat":-23.0,"p":160},{"g":"l45L","u":45,"i":4,"lat":-22.4,"p":193},{"g":"l45L","u":45,"i":5,"lat":-22.7,"p":233},{"g":"l45L","u":45,"i":6,"lat":-23.6,"p":263},{"g":"l45L","u":45,"i":7,"lat":-25.6,"p":286},{"g":"l45L","u":45,"i":8,"lat":-27.7,"p":295},{"g":"l45L","u":45,"i":9,"lat":-29.4,"p":286},{"g":"l45L","u":45,"i":10,"lat":-31.5,"p":258},{"g":"l45L","u":45,"i":11,"lat":-33.5,"p":225},{"g":"l45L","u":45,"i":12,"lat":-34.4,"p":193},{"g":"l45L","u":45,"i":13,"lat":-34.1,"p":160},{"g":"l45L","u":45,"i":14,"lat":-32.6,"p":133},
{"g":"l45R","u":45,"i":0,"lat":30.0,"p":120},{"g":"l45R","u":45,"i":1,"lat":27.1,"p":123},{"g":"l45R","u":45,"i":2,"lat":24.4,"p":136},{"g":"l45R","u":45,"i":3,"lat":23.0,"p":160},{"g":"l45R","u":45,"i":4,"lat":22.4,"p":193},{"g":"l45R","u":45,"i":5,"lat":22.7,"p":233},{"g":"l45R","u":45,"i":6,"lat":23.6,"p":263},{"g":"l45R","u":45,"i":7,"lat":25.6,"p":286},{"g":"l45R","u":45,"i":8,"lat":27.7,"p":295},{"g":"l45R","u":45,"i":9,"lat":29.4,"p":286},{"g":"l45R","u":45,"i":10,"lat":31.5,"p":258},{"g":"l45R","u":45,"i":11,"lat":33.5,"p":225},{"g":"l45R","u":45,"i":12,"lat":34.4,"p":193},{"g":"l45R","u":45,"i":13,"lat":34.1,"p":160},{"g":"l45R","u":45,"i":14,"lat":32.6,"p":133},
{"g":"m50L","u":50,"i":0,"lat":-31.5,"p":152},{"g":"m50L","u":50,"i":1,"lat":-28.0,"p":144},{"g":"m50L","u":50,"i":2,"lat":-25.6,"p":152},{"g":"m50L","u":50,"i":3,"lat":-25.0,"p":180},{"g":"m50L","u":50,"i":4,"lat":-24.7,"p":217},{"g":"m50L","u":50,"i":5,"lat":-27.1,"p":238},{"g":"m50L","u":50,"i":6,"lat":-28.5,"p":245},{"g":"m50L","u":50,"i":7,"lat":-30.0,"p":229},{"g":"m50L","u":50,"i":8,"lat":-32.0,"p":201},{"g":"m50L","u":50,"i":9,"lat":-32.3,"p":180},
{"g":"m50R","u":50,"i":0,"lat":31.5,"p":152},{"g":"m50R","u":50,"i":1,"lat":28.0,"p":144},{"g":"m50R","u":50,"i":2,"lat":25.6,"p":152},{"g":"m50R","u":50,"i":3,"lat":25.0,"p":180},{"g":"m50R","u":50,"i":4,"lat":24.7,"p":217},{"g":"m50R","u":50,"i":5,"lat":27.1,"p":238},{"g":"m50R","u":50,"i":6,"lat":28.5,"p":245},{"g":"m50R","u":50,"i":7,"lat":30.0,"p":229},{"g":"m50R","u":50,"i":8,"lat":32.0,"p":201},{"g":"m50R","u":50,"i":9,"lat":32.3,"p":180}
]},
"resolve":{"scale":{"x":"independent","y":"independent"},"axis":{"x":"independent","y":"independent"}},
"layer":[
{"mark":{"type":"line","interpolate":"linear-closed","stroke":"#333333","strokeWidth":0.7,"clip":true},
 "encoding":{
  "x":{"field":"lat","type":"quantitative","scale":{"domain":[-90,90],"nice":false,"zero":false},
       "axis":{"orient":"bottom","values":[-90,-60,-30,0,30,60,90],"labelExpr":"datum.value==0?'0':(datum.value<0?(-datum.value)+'S':datum.value+'N')","tickSize":17,"tickColor":"#000000","tickWidth":1.2,"domainColor":"#222222","domainWidth":1.2,"labelFont":"Liberation Sans","labelFontSize":26,"labelColor":"#000000","labelPadding":17,"labelFlush":false,"labelOverlap":false,"grid":false,"title":null}},
  "y":{"field":"p","type":"quantitative","scale":{"domain":[50,100,1000],"range":[0,61,614],"nice":false,"zero":false},
       "axis":{"orient":"left","values":[50,100,200,400,600,800,1000],"format":"d","tickSize":17,"tickColor":"#000000","tickWidth":1.2,"domainColor":"#222222","domainWidth":1.2,"labelFont":"Liberation Serif","labelFontSize":30,"labelColor":"#000000","labelPadding":20,"labelFlush":false,"labelOverlap":false,"grid":false,
               "title":"Pressure (mbar)","titleFont":"Liberation Sans","titleFontSize":40,"titleFontWeight":"normal","titleColor":"#000000","titleX":-126,"titleY":281,"titleAngle":270,"titleAlign":"center","titleBaseline":"middle"}},
  "detail":{"field":"g"},
  "order":{"field":"i","type":"quantitative"},
  "fill":{"field":"u","type":"quantitative",
    "scale":{"type":"threshold","domain":[-5,0,5,10,15,20,25,30,35,40,45,50,55,60,65],
      "range":["#ffffff","#d3eef9","#a6ddf6","#7ab8e4","#5598d1","#48999b","#47aa63","#7cc14e","#c8db57","#f9d254","#f8963c","#f0622c","#df422b","#d01f2b","#b2192a","#8f1519"]},
    "legend":null}
 }},
{"data":{"values":[{"lat":0,"p":500}]},"mark":{"type":"point","opacity":0},
 "encoding":{
  "x":{"field":"lat","type":"quantitative","scale":{"domain":[-90,90],"nice":false,"zero":false},
       "axis":{"orient":"bottom","values":[-80,-70,-50,-40,-20,-10,10,20,40,50,70,80],"tickSize":8,"tickColor":"#888888","tickWidth":1,"domain":false,"labels":false,"grid":false,"title":null}},
  "y":{"field":"p","type":"quantitative","scale":{"domain":[50,100,1000],"range":[0,61,614],"nice":false,"zero":false},
       "axis":{"orient":"right","values":[50,100,200,400,600,800,1000],"tickSize":17,"tickColor":"#000000","tickWidth":1.2,"domainColor":"#222222","domainWidth":1.2,"labels":false,"grid":false,"title":null}}
 }},
{"data":{"values":[{"lat":0,"p":500}]},"mark":{"type":"point","opacity":0},
 "encoding":{
  "x":{"field":"lat","type":"quantitative","scale":{"domain":[-90,90],"nice":false,"zero":false},
       "axis":{"orient":"top","values":[-90,-60,-30,0,30,60,90],"tickSize":17,"tickColor":"#000000","tickWidth":1.2,"domainColor":"#222222","domainWidth":1.2,"labels":false,"grid":false,"title":null}},
  "y":{"field":"p","type":"quantitative","scale":{"domain":[50,100,1000],"range":[0,61,614],"nice":false,"zero":false},"axis":null}
 }},
{"data":{"values":[{"lat":0,"p":500}]},"mark":{"type":"point","opacity":0},
 "encoding":{
  "x":{"field":"lat","type":"quantitative","scale":{"domain":[-90,90],"nice":false,"zero":false},
       "axis":{"orient":"top","values":[-80,-70,-50,-40,-20,-10,10,20,40,50,70,80],"tickSize":8,"tickColor":"#888888","tickWidth":1,"domain":false,"labels":false,"grid":false,"title":null}},
  "y":{"field":"p","type":"quantitative","scale":{"domain":[50,100,1000],"range":[0,61,614],"nice":false,"zero":false},"axis":null}
 }},
{"data":{"values":[{"lo":-10,"hi":-5,"u":-10},{"lo":-5,"hi":0,"u":-5},{"lo":0,"hi":5,"u":0},{"lo":5,"hi":10,"u":5},{"lo":10,"hi":15,"u":10},{"lo":15,"hi":20,"u":15},{"lo":20,"hi":25,"u":20},{"lo":25,"hi":30,"u":25},{"lo":30,"hi":35,"u":30},{"lo":35,"hi":40,"u":35},{"lo":40,"hi":45,"u":40},{"lo":45,"hi":50,"u":45},{"lo":50,"hi":55,"u":50},{"lo":55,"hi":60,"u":55},{"lo":60,"hi":65,"u":60},{"lo":65,"hi":70,"u":65}]},
 "mark":{"type":"rect","stroke":"#333333","strokeWidth":0.8},
 "encoding":{
  "x":{"datum":0,"type":"quantitative","scale":{"domain":[0,1],"range":[679,716],"nice":false,"zero":false},"axis":null},
  "x2":{"datum":1},
  "y":{"field":"lo","type":"quantitative","scale":{"domain":[-10,70],"range":[608,6],"nice":false,"zero":false},
       "axis":{"orient":"right","offset":101,"values":[-5,0,5,10,15,20,25,30,35,40,45,50,55,60,65],"labelExpr":"'' + datum.value","ticks":false,"tickSize":0,"domain":false,"labelPadding":9,"labelOffset":9,"labelFont":"Liberation Sans","labelFontSize":21,"labelColor":"#000000","labelFlush":false,"labelOverlap":false,"grid":false,"title":null}},
  "y2":{"field":"hi"},
  "fill":{"field":"u","type":"quantitative",
    "scale":{"type":"threshold","domain":[-5,0,5,10,15,20,25,30,35,40,45,50,55,60,65],
      "range":["#ffffff","#d3eef9","#a6ddf6","#7ab8e4","#5598d1","#48999b","#47aa63","#7cc14e","#c8db57","#f9d254","#f8963c","#f0622c","#df422b","#d01f2b","#b2192a","#8f1519"]},
    "legend":null}
 }}
]
}
